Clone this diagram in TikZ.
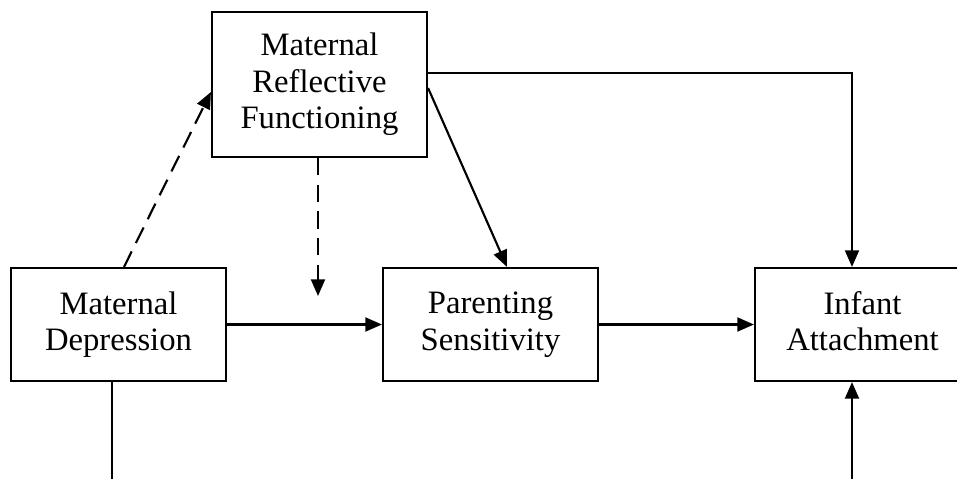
\documentclass[tikz,border=0pt]{standalone}
\usepackage{fontspec}
\setmainfont{Liberation Serif}
\usetikzlibrary{arrows.meta}
\tikzset{
  box/.style={draw, line width=1.6pt, inner sep=0pt, align=center,
    minimum width=161.25pt, minimum height=84.75pt,
    font=\fontsize{24.5}{27.4}\selectfont},
  arr/.style={line width=1.6pt, -{Triangle[length=12.5pt,width=10.5pt]}},
  dasharr/.style={arr, dash pattern=on 13pt off 7pt}
}
\begin{document}
\begin{tikzpicture}[x=0.75pt,y=-0.75pt]
    \useasboundingbox (0,0) rectangle (957,479);
    % boxes
    \node[box, minimum height=108.75pt] (mrf) at (319.5,84.5) {Maternal\\Reflective\\Functioning};
    \node[box] (md) at (118.5,324.5) {Maternal\\Depression};
    \node[box] (ps) at (490.5,324.5) {Parenting\\Sensitivity};
    \node[box] (ia) at (862.5,324.5) {Infant\\Attachment\vphantom{p}};

    % free ends
    \coordinate (mod) at (318,296);
    \coordinate (mdlow) at (112,479);
    \coordinate (ialow) at (852,479);

    % paths
    \draw[arr] (md.east) -- (ps.west);
    \draw[arr] (ps.east) -- (ia.west);
    \draw[arr] (mrf.east |- 0,88) -- (ps.north -| 507,0);
    \draw[arr] (mrf.east |- 0,73) -| (ia.north -| ialow);
    \draw[dasharr] (md.north -| 124,0) -- (mrf.west |- 0,92);
    \draw[dasharr] (mrf.south -| mod) -- (mod);
    \draw[line width=1.6pt] (md.south -| mdlow) -- (mdlow);
    \draw[arr] (ialow) -- (ia.south -| ialow);
\end{tikzpicture}
\end{document}
